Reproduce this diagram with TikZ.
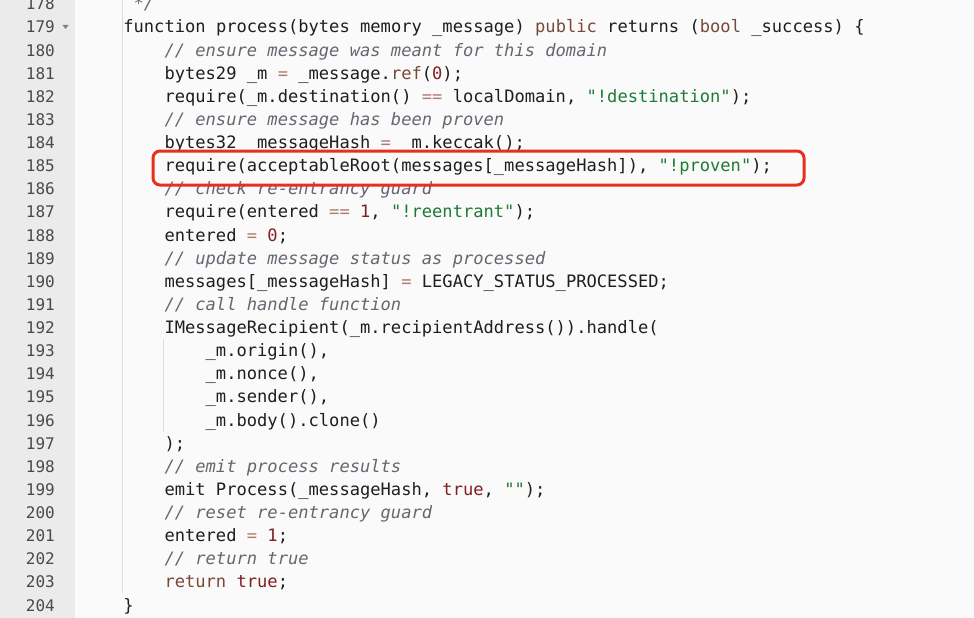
\documentclass[tikz,border=0pt]{standalone}
\usepackage{fontspec}
\setmonofont{DejaVu Sans Mono}
\definecolor{bgc}{HTML}{FAFAFA}
\definecolor{gutterc}{HTML}{EBEBEB}
\definecolor{lnumc}{HTML}{4A4A4A}
\definecolor{textc}{HTML}{1E1E1E}
\definecolor{kwc}{HTML}{794938}
\definecolor{numc}{HTML}{811F24}
\definecolor{strc}{HTML}{1F7A35}
\definecolor{cmc}{HTML}{6A6470}
\definecolor{opc}{HTML}{B07A6E}
\definecolor{guidec}{HTML}{DDDDDD}
\definecolor{boxc}{HTML}{E5301E}
\newcommand{\kw}[1]{\textcolor{kwc}{#1}}
\newcommand{\nm}[1]{\textcolor{numc}{#1}}
\newcommand{\st}[1]{\textcolor{strc}{#1}}
\newcommand{\op}[1]{\textcolor{opc}{#1}}
\newcommand{\cm}[1]{\textcolor{cmc}{\itshape #1}}
\tikzset{
  codetxt/.style={anchor=base west, inner sep=0pt, text=textc,
    font=\ttfamily\fontsize{17.1}{20}\selectfont},
  lnum/.style={anchor=base east, inner sep=0pt, text=lnumc,
    font=\ttfamily\fontsize{16}{19}\selectfont},
  guide/.style={draw=guidec, line width=1pt},
  redbox/.style={draw=boxc, line width=3pt, rounded corners=7pt, inner sep=0pt,
    minimum width=651pt, minimum height=34pt}
}
\newcommand{\codeline}[3]{\node[codetxt] (c#1) at ({82+#2*10.29},{33+(#1-179)*23.12}) {#3};}
\begin{document}
\begin{tikzpicture}[x=1pt,y=-1pt]
\useasboundingbox (0,0) rectangle (974,618);
\fill[bgc] (0,0) rectangle (974,618);
\fill[gutterc] (0,0) rectangle (75,618);
% indent guides
\draw[guide] (122.5,0) -- (122.5,593.4);
\draw[guide] (163.5,339) -- (163.5,431.6);
% line numbers
\foreach \i in {178,...,204} {
  \node[lnum] (n\i) at (55,{33+(\i-179)*23.12}) {\i};
}
\fill[lnumc!70] (62.5,25) -- (68.5,25) -- (65.5,29) -- cycle;
% code
\codeline{178}{5}{\cm{*/}}
\codeline{179}{4}{function process(bytes memory \_message) \kw{public} returns (\kw{bool} \_success) \{}
\codeline{180}{8}{\cm{// ensure message was meant for this domain}}
\codeline{181}{8}{bytes29 \_m \op{=} \_message.\kw{ref}(\nm{0});}
\codeline{182}{8}{require(\_m.destination() \op{==} localDomain, \st{"!destination"});}
\codeline{183}{8}{\cm{// ensure message has been proven}}
\codeline{184}{8}{bytes32 \_messageHash \op{=} \_m.keccak();}
\codeline{185}{8}{require(acceptableRoot(messages[\_messageHash]), \st{"!proven"});}
\codeline{186}{8}{\cm{// check re-entrancy guard}}
\codeline{187}{8}{require(entered \op{==} \nm{1}, \st{"!reentrant"});}
\codeline{188}{8}{entered \op{=} \nm{0};}
\codeline{189}{8}{\cm{// update message status as processed}}
\codeline{190}{8}{messages[\_messageHash] \op{=} LEGACY\_STATUS\_PROCESSED;}
\codeline{191}{8}{\cm{// call handle function}}
\codeline{192}{8}{IMessageRecipient(\_m.recipientAddress()).handle(}
\codeline{193}{12}{\_m.origin(),}
\codeline{194}{12}{\_m.nonce(),}
\codeline{195}{12}{\_m.sender(),}
\codeline{196}{12}{\_m.body().clone()}
\codeline{197}{8}{);}
\codeline{198}{8}{\cm{// emit process results}}
\codeline{199}{8}{emit Process(\_messageHash, \nm{true}, \st{""});}
\codeline{200}{8}{\cm{// reset re-entrancy guard}}
\codeline{201}{8}{entered \op{=} \nm{1};}
\codeline{202}{8}{\cm{// return true}}
\codeline{203}{8}{\kw{return} \nm{true};}
\codeline{204}{4}{\}}
% highlight box
\node[redbox] (hl) at (478.5,168) {};
\end{tikzpicture}
\end{document}
